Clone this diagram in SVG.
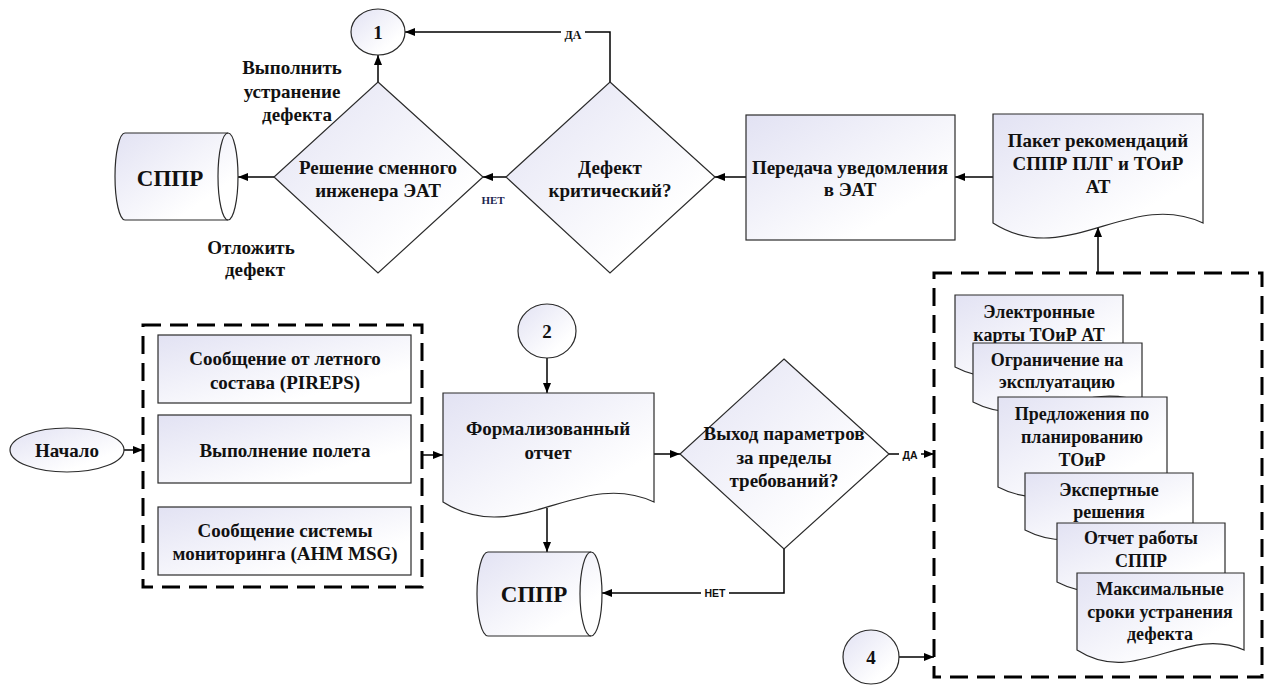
<svg xmlns="http://www.w3.org/2000/svg" width="1268" height="686" viewBox="0 0 1268 686">
<style>
.s{fill:url(#g);stroke:#2b2b2b;stroke-width:1.2}
.t{font-family:'Liberation Serif','Times New Roman','DejaVu Serif',serif;font-weight:700;font-size:19px;text-anchor:middle;dominant-baseline:central;fill:#111}
.td{font-size:18px}
.big{font-size:23px}
.c{fill:none;stroke:#000;stroke-width:1.5;marker-end:url(#ah)}
.dash{fill:none;stroke:#000;stroke-width:3;stroke-dasharray:18 9}
.lb{font-family:'Liberation Sans',Arial,sans-serif;font-weight:700;font-size:10.5px;text-anchor:middle;dominant-baseline:central;fill:#111}
.ls{font-family:'Liberation Serif','Times New Roman','DejaVu Serif',serif;font-weight:700;text-anchor:middle;dominant-baseline:central}
</style>
<defs>
<linearGradient id="g" x1="0" y1="0" x2="1" y2="1">
<stop offset="0" stop-color="#e2e2f3"/>
<stop offset="0.75" stop-color="#ffffff"/>
</linearGradient>
<marker id="ah" viewBox="0 0 10 8" markerWidth="10" markerHeight="8" markerUnits="userSpaceOnUse" refX="10" refY="4" orient="auto">
<path d="M0,0 L10,4 L0,8 Z" fill="#000"/>
</marker>
</defs>
<rect width="1268" height="686" fill="#fff"/>

<g id="group-inputs"><rect class="dash" x="143" y="325" width="279" height="262"/></g>
<g id="group-recs"><rect class="dash" x="934" y="273" width="328" height="404"/></g>

<g id="connectors">
<path class="c" d="M123,450 H143"/>
<path class="c" d="M422,455 H443"/>
<path class="c" d="M547,358 V393"/>
<path class="c" d="M547,508 V552"/>
<path class="c" d="M654,454 H680"/>
<path class="c" d="M784,549 V593 H602"/>
<path class="c" d="M889,454 H934"/>
<path class="c" d="M899,657 H934"/>
<path class="c" d="M1098,273 V227"/>
<path class="c" d="M993,177 H955"/>
<path class="c" d="M746,177 H715"/>
<path class="c" d="M506,177 H483"/>
<path class="c" d="M610,82 V32 H405"/>
<path class="c" d="M378,82 V55"/>
<path class="c" d="M274,177 H238"/>
<rect x="561" y="28" width="24" height="14" fill="#fff"/>
<text class="ls" x="573" y="35" font-size="12" fill="#111">ДА</text>
<text class="ls" x="493" y="200" font-size="11" fill="#1c2550">НЕТ</text>
<rect x="701" y="587" width="28" height="12" fill="#fff"/>
<text class="lb" x="715" y="593">НЕТ</text>
<rect x="899" y="449" width="22" height="12" fill="#fff"/>
<text class="lb" x="910" y="455">ДА</text>
</g>

<g id="start">
<ellipse class="s" cx="67" cy="450" rx="57" ry="22"/>
<text class="t" x="67" y="450">Начало</text>
</g>
<g id="pireps">
<rect class="s" x="158" y="335" width="253" height="68"/>
<text class="t" x="285" y="358">Сообщение от летного</text>
<text class="t" x="285" y="382">состава (PIREPS)</text>
</g>
<g id="flight">
<rect class="s" x="158" y="415" width="253" height="68"/>
<text class="t" x="285" y="450">Выполнение полета</text>
</g>
<g id="ahm">
<rect class="s" x="158" y="507" width="253" height="68"/>
<text class="t" x="285" y="530">Сообщение системы</text>
<text class="t" x="285" y="553">мониторинга (AHM MSG)</text>
</g>

<g id="conn2">
<ellipse class="s" cx="547" cy="331" rx="29" ry="27"/>
<text class="t" x="547" y="331">2</text>
</g>
<g id="report">
<path class="s" d="M443,393 H654 V502 C580,467.5 517,549 443,502 Z"/>
<text class="t" x="548" y="428">Формализованный</text>
<text class="t" x="548" y="452">отчет</text>
</g>
<g id="sppr-bottom">
<path class="s" d="M488,552 H591 A11 42 0 0 1 591,636 H488 A11 42 0 0 1 488,552 Z"/>
<path d="M591,552 A11 42 0 0 0 591,636" fill="none" stroke="#2b2b2b" stroke-width="1.2"/>
<text class="t big" x="534" y="594">СППР</text>
</g>
<g id="params">
<path class="s" d="M784,359 L889,454 L784,549 L680,454 Z"/>
<text class="t" x="784" y="433">Выход параметров</text>
<text class="t" x="784" y="457">за пределы</text>
<text class="t" x="784" y="480">требований?</text>
</g>
<g id="conn4">
<ellipse class="s" cx="871" cy="657" rx="28" ry="27"/>
<text class="t" x="871" y="657">4</text>
</g>

<g id="doc1">
<path class="s" d="M955,295 H1123 V367 C1064,344 1014,398 955,367 Z"/>
<text class="t td" x="1039" y="312">Электронные</text>
<text class="t td" x="1039" y="335">карты ТОиР АТ</text>
</g>
<g id="doc2">
<path class="s" d="M973,343 H1142 V402 C1083,379 1032,433 973,402 Z"/>
<text class="t td" x="1057" y="360">Ограничение на</text>
<text class="t td" x="1057" y="382">эксплуатацию</text>
</g>
<g id="doc3">
<path class="s" d="M998,397 H1167 V487 C1108,464 1057,518 998,487 Z"/>
<text class="t td" x="1082" y="414">Предложения по</text>
<text class="t td" x="1082" y="437">планированию</text>
<text class="t td" x="1082" y="460">ТОиР</text>
</g>
<g id="doc4">
<path class="s" d="M1025,473 H1193 V530 C1134,507 1084,561 1025,530 Z"/>
<text class="t td" x="1109" y="490">Экспертные</text>
<text class="t td" x="1109" y="512">решения</text>
</g>
<g id="doc5">
<path class="s" d="M1057,523 H1225 V582 C1166,559 1116,613 1057,582 Z"/>
<text class="t td" x="1141" y="538">Отчет работы</text>
<text class="t td" x="1141" y="561">СППР</text>
</g>
<g id="doc6">
<path class="s" d="M1077,573 H1244 V650 C1185,624 1136,688 1077,650 Z"/>
<text class="t td" x="1160" y="589">Максимальные</text>
<text class="t td" x="1160" y="612">сроки устранения</text>
<text class="t td" x="1160" y="634">дефекта</text>
</g>

<g id="package">
<path class="s" d="M993,114 H1203 V223 C1129.5,188.5 1066.5,270 993,223 Z"/>
<text class="t" x="1098" y="140">Пакет рекомендаций</text>
<text class="t" x="1098" y="163">СППР ПЛГ и ТОиР</text>
<text class="t" x="1098" y="186">АТ</text>
</g>
<g id="notify">
<rect class="s" x="746" y="115" width="209" height="125"/>
<text class="t" x="850" y="167">Передача уведомления</text>
<text class="t" x="850" y="189">в ЭАТ</text>
</g>
<g id="critical">
<path class="s" d="M610,82 L715,177 L610,273 L506,177 Z"/>
<text class="t" x="610" y="167">Дефект</text>
<text class="t" x="610" y="190">критический?</text>
</g>
<g id="decision">
<path class="s" d="M378,82 L483,177 L378,273 L274,177 Z"/>
<text class="t" x="378" y="167">Решение сменного</text>
<text class="t" x="378" y="190">инженера ЭАТ</text>
</g>
<g id="conn1">
<ellipse class="s" cx="378" cy="32" rx="27" ry="23"/>
<text class="t" x="378" y="32">1</text>
</g>
<g id="sppr-top">
<path class="s" d="M125,133 H228 A10 43.5 0 0 1 228,220 H125 A10 43.5 0 0 1 125,133 Z"/>
<path d="M228,133 A10 43.5 0 0 0 228,220" fill="none" stroke="#2b2b2b" stroke-width="1.2"/>
<text class="t big" x="170" y="178">СППР</text>
</g>
<g id="labels">
<text class="t" x="292" y="67">Выполнить</text>
<text class="t" x="292" y="91">устранение</text>
<text class="t" x="297" y="114">дефекта</text>
<text class="t" x="251" y="247">Отложить</text>
<text class="t" x="255" y="269">дефект</text>
</g>
</svg>
